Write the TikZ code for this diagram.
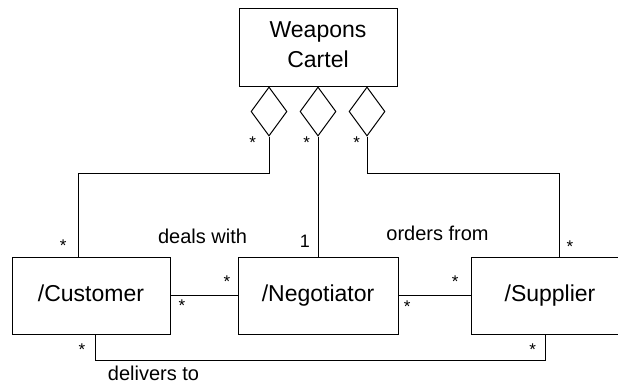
\documentclass[tikz,border=0pt]{standalone}
\usepackage{fontspec}
\setmainfont{Liberation Sans}
\usetikzlibrary{shapes.geometric}
\begin{document}
\begin{tikzpicture}[x=1pt,y=-1pt,
  cls/.style={draw, line width=1pt, minimum width=158pt, minimum height=77pt, inner sep=0pt,
    font=\fontsize{23}{30}\selectfont, text height=17pt, text depth=5pt},
  agg/.style={draw, diamond, line width=1pt, minimum width=36pt, minimum height=49pt, inner sep=0pt},
  conn/.style={line width=1pt},
  mult/.style={anchor=base, inner sep=0pt, font=\fontsize{17}{17}\selectfont},
  lbl/.style={anchor=base, inner sep=0pt, font=\fontsize{20}{20}\selectfont}]
\useasboundingbox (0,0) rectangle (618,383);
\fill[white] (0,0) rectangle (618,383);
% classes
\node[cls, minimum height=78pt, align=center, text height=46.5pt, text depth=6.5pt] (wc) at (318,47) {Weapons\\Cartel};
\node[cls] (cust) at (91,295.5) {/Customer};
\node[cls, minimum width=160pt] (neg) at (318,295.5) {/Negotiator};
\node[cls] (sup) at (550,295.5) {/Supplier};
% aggregation diamonds
\node[agg] (d1) at (269,111.5) {};
\node[agg] (d2) at (318,111.5) {};
\node[agg] (d3) at (367,111.5) {};
% bend points
\coordinate (c1) at (78,173);
\coordinate (c3) at (559,173);
\coordinate (c4) at (95,360);
\coordinate (c5) at (545,360);
% connectors
\draw[conn] (d1.south) |- (c1) -- (c1 |- cust.north);
\draw[conn] (d2.south) -- (neg.north);
\draw[conn] (d3.south) |- (c3) -- (c3 |- sup.north);
\draw[conn] (cust.east) -- (neg.west);
\draw[conn] (neg.east) -- (sup.west);
\draw[conn] (c4 |- cust.south) -- (c4) -- (c5) -- (c5 |- sup.south);
% multiplicities
\node[mult] (m1) at (252.7,148.6) {*};
\node[mult] (m2) at (306.7,148.3) {*};
\node[mult] (m3) at (356.7,148.3) {*};
\node[mult] (m4) at (63.3,251) {*};
\node[lbl, font=\fontsize{18}{18}\selectfont] (m5) at (305,247) {1};
\node[mult] (m6) at (570,252.6) {*};
\node[mult] (m7) at (182,311.3) {*};
\node[mult] (m8) at (227,287.3) {*};
\node[mult] (m9) at (407.3,312.6) {*};
\node[mult] (m10) at (455.3,287.6) {*};
\node[mult] (m11) at (82,355.3) {*};
\node[mult] (m12) at (532.7,355.3) {*};
% association labels
\node[lbl] (l1) at (202.5,243) {deals with};
\node[lbl] (l2) at (437.5,240) {orders from};
\node[lbl] (l3) at (153.5,380) {delivers to};
\end{tikzpicture}
\end{document}
